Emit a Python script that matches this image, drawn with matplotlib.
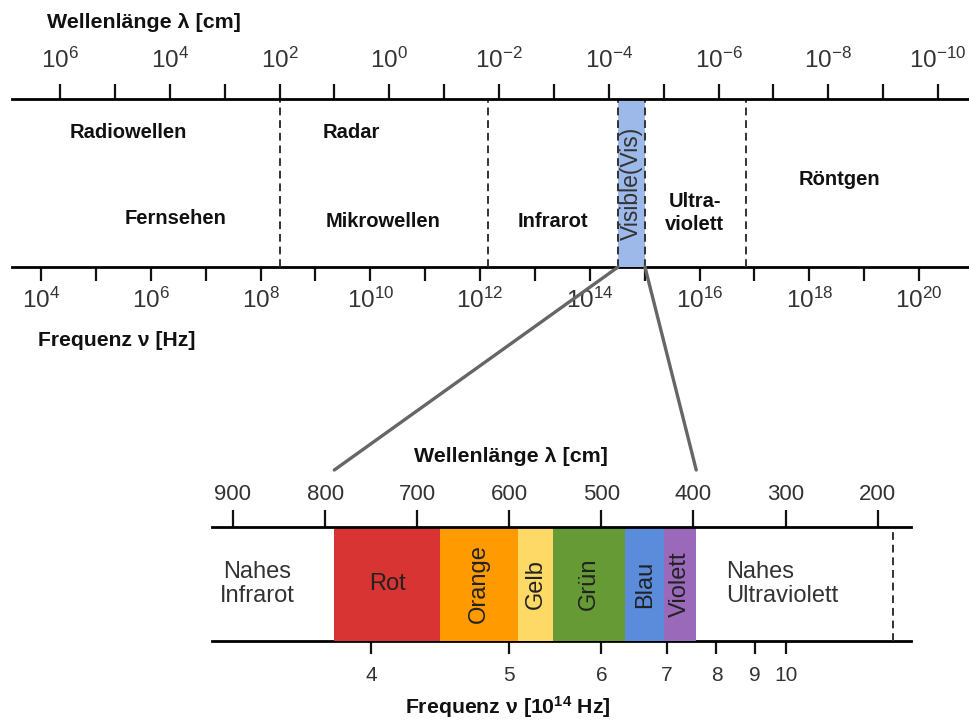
import numpy as np
import matplotlib.pyplot as plt
from matplotlib.patches import ConnectionPatch
from matplotlib.ticker import FixedLocator, FuncFormatter

plt.rcParams['font.family'] = ['Liberation Sans', 'DejaVu Sans']
plt.rcParams['mathtext.fontset'] = 'custom'
plt.rcParams['mathtext.rm'] = 'Liberation Sans'
plt.rcParams['mathtext.it'] = 'Liberation Sans:italic'
plt.rcParams['mathtext.bf'] = 'Liberation Sans:bold'

# =========================================
# DATA
# =========================================
# upper spectrum, x = log10(wavelength / cm)
lam_major = [6, 4, 2, 0, -2, -4, -6, -8, -10]
lam_minor = [5, 3, 1, -1, -3, -5, -7, -9]
nu_major = [4, 6, 8, 10, 12, 14, 16, 18, 20]     # log10(frequency / Hz)
nu_minor = [5, 7, 9, 11, 13, 15, 17, 19]
region_borders = [2.0, -1.8, -6.5]
vis_band = [-4.17, -4.66]

region_names = ["Radiowellen", "Fernsehen", "Radar", "Mikrowellen",
                "Infrarot", "Ultra-\nviolett", "Röntgen"]
region_x = [4.76, 3.89, 0.70, 0.11, -2.98, -5.57, -8.21]
region_y = [0.80, 0.29, 0.80, 0.27, 0.27, 0.32, 0.52]

# lower spectrum (visible), x = wavelength
band_names = ["Rot", "Orange", "Gelb", "Grün", "Blau", "Violett"]
band_edges = [790, 675, 590, 553, 474, 432, 397]
band_colors = ["#d93434", "#ff9a00", "#ffd965", "#659a35", "#5b8bdb", "#9a69b9"]
nm_ticks = [900, 800, 700, 600, 500, 400, 300, 200]
freq_ticks = [4, 5, 6, 7, 8, 9, 10]   # 10^14 Hz
uv_limit = 183

INK = "#111111"
GREY = "#333333"


def pow_label(v, pos=None):
    return r"$\mathregular{10^{%d}}$" % round(v)


fig = plt.figure(figsize=(9.7, 7.2), dpi=100)

# =========================================
# UPPER SPECTRUM
# =========================================
ax1 = fig.add_axes([12 / 970, 1 - 267 / 720, 958 / 970, 168 / 720])
ax1.set_xlim(6.875, -10.583)
ax1.set_ylim(0, 1)
ax1.set_yticks([])
for s in ["left", "right", "bottom"]:
    ax1.spines[s].set_visible(False)
ax1.spines["top"].set_linewidth(2.0)

ax1.xaxis.tick_top()
ax1.xaxis.set_major_locator(FixedLocator(lam_major))
ax1.xaxis.set_minor_locator(FixedLocator(lam_minor))
ax1.xaxis.set_major_formatter(FuncFormatter(pow_label))
ax1.tick_params(axis="x", which="both", direction="out", length=11, width=1.6,
                color=INK, top=True, bottom=False)
ax1.tick_params(axis="x", which="major", labelsize=17.5, labelcolor=GREY, pad=8)

sec1 = ax1.secondary_xaxis("bottom", functions=(lambda x: 10.346 - x,
                                                lambda x: 10.346 - x))
sec1.spines["bottom"].set_linewidth(2.0)
sec1.xaxis.set_major_locator(FixedLocator(nu_major))
sec1.xaxis.set_minor_locator(FixedLocator(nu_minor))
sec1.xaxis.set_major_formatter(FuncFormatter(pow_label))
sec1.tick_params(axis="x", which="both", direction="out", length=10, width=1.6,
                 color=INK)
sec1.tick_params(axis="x", which="major", labelsize=17.5, labelcolor=GREY, pad=5)

ax1.axvspan(vis_band[1], vis_band[0], color="#9db9ea", lw=0)
for xb in region_borders + vis_band:
    ax1.axvline(xb, color=GREY, lw=1.4, ls=(0, (4, 2.5)))

for name, x, y in zip(region_names, region_x, region_y):
    ax1.text(x, y, name, transform=ax1.get_xaxis_transform(), ha="center",
             va="center", fontsize=14.5, fontweight="bold", color=INK,
             linespacing=1.25)
ax1.text(np.mean(vis_band), 0.5, "Visible(Vis)", transform=ax1.get_xaxis_transform(),
         rotation=90, ha="center", va="center", fontsize=16.5, color=GREY)

fig.text(47 / 970, 1 - 22 / 720, "Wellenlänge λ [cm]", fontsize=15.4,
         fontweight="bold", color=INK, va="center")
fig.text(38 / 970, 1 - 340 / 720, "Frequenz ν [Hz]", fontsize=15.2,
         fontweight="bold", color=INK, va="center")

# =========================================
# LOWER SPECTRUM (VISIBLE)
# =========================================
ax2 = fig.add_axes([212 / 970, 1 - 641 / 720, 699 / 970, 114 / 720])
ax2.set_xlim(922.8, 163.8)
ax2.set_ylim(0, 1)
ax2.set_yticks([])
for s in ["left", "right", "bottom"]:
    ax2.spines[s].set_visible(False)
ax2.spines["top"].set_linewidth(2.0)

ax2.xaxis.tick_top()
ax2.set_xticks(nm_ticks)
ax2.set_xticklabels([str(t) for t in nm_ticks])
ax2.tick_params(axis="x", direction="out", length=12, width=1.6, color=INK,
                labelsize=16, labelcolor=GREY, pad=4, top=True, bottom=False)

sec2 = ax2.secondary_xaxis("bottom", functions=(lambda x: 3000.0 / x,
                                                lambda x: 3000.0 / x))
sec2.spines["bottom"].set_linewidth(2.0)
sec2.set_xticks(freq_ticks)
sec2.set_xticklabels([str(t) for t in freq_ticks])
sec2.tick_params(axis="x", direction="out", length=9, width=1.6, color=INK,
                 labelsize=15, labelcolor=GREY, pad=9)

for i, name in enumerate(band_names):
    lo, hi = band_edges[i + 1], band_edges[i]
    ax2.axvspan(lo, hi, color=band_colors[i], lw=0)
    rot = 0 if name == "Rot" else 90
    ax2.text((lo + hi) / 2, 0.5, name, rotation=rot, ha="center", va="center",
             fontsize=17, color="#222222", transform=ax2.get_xaxis_transform())

ax2.axvline(uv_limit, color=GREY, lw=1.4, ls=(0, (4, 2.5)))
ax2.text(874, 0.5, "Nahes\nInfrarot", ha="center", va="center", fontsize=17,
         color=GREY, linespacing=1.1, transform=ax2.get_xaxis_transform())
ax2.text(365, 0.5, "Nahes\nUltraviolett", ha="left", va="center", fontsize=17,
         color=GREY, linespacing=1.1, transform=ax2.get_xaxis_transform())

fig.text(511 / 970, 1 - 457 / 720, "Wellenlänge λ [cm]", fontsize=15.4,
         fontweight="bold", color=INK, ha="center", va="center")
fig.text(508 / 970, 1 - 707 / 720, r"Frequenz ν [$\mathbf{10^{14}}$ Hz]",
         fontsize=15.3, fontweight="bold", color=INK, ha="center", va="center")

# connectors from the visible band to the zoomed spectrum
for xa, xb in [(vis_band[0], band_edges[0]), (vis_band[1], band_edges[-1])]:
    con = ConnectionPatch(xyA=(xa, 0), coordsA=ax1.get_xaxis_transform(),
                          xyB=(xb, 1.5), coordsB=ax2.get_xaxis_transform(),
                          color="#666666", lw=2.4)
    fig.add_artist(con)

fig.savefig("out.png", dpi=100)
